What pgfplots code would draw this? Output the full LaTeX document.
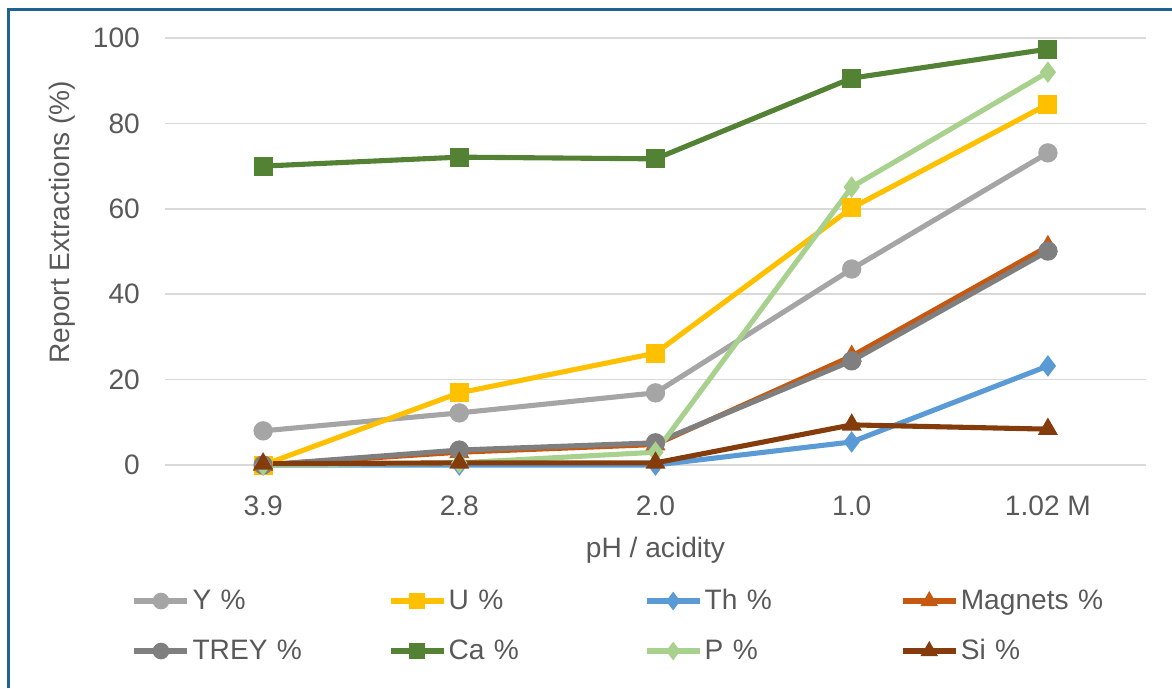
\documentclass[border=0pt]{standalone}
\usepackage{pgfplots}
\pgfplotsset{compat=1.18}
\usepackage{fontspec}
\setmainfont{Liberation Sans}

\definecolor{txt}{HTML}{595959}
\definecolor{gridc}{HTML}{D9D9D9}
\definecolor{frame}{HTML}{1F6391}
\definecolor{cY}{HTML}{A5A5A5}
\definecolor{cU}{HTML}{FFC000}
\definecolor{cTh}{HTML}{5B9BD5}
\definecolor{cMag}{HTML}{C65911}
\definecolor{cTREY}{HTML}{7F7F7F}
\definecolor{cCa}{HTML}{548235}
\definecolor{cP}{HTML}{A9D18E}
\definecolor{cSi}{HTML}{843C0C}

\newcommand{\chartfont}{\fontsize{16}{19}\selectfont}

\pgfplotsset{
  ser/.style={color=#1, line width=2.9pt, mark options={solid, fill=#1, draw=#1, line width=0.8pt}},
}

\begin{document}
\begin{tikzpicture}
\begin{axis}[
  at={(3.30cm,-9.30cm)}, anchor=south west,
  width=19.62cm, height=8.54cm, scale only axis,
  xmin=-0.5, xmax=4.5, ymin=0, ymax=100,
  xtick={0,1,2,3,4},
  xticklabels={3.9,2.8,2.0,1.0,1.02 M},
  ytick={0,20,40,60,80,100},
  ymajorgrids, grid style={gridc, line width=1pt},
  axis line style={draw=none},
  major tick length=0pt,
  /pgf/number format/assume math mode=true,
  tick label style={font=\chartfont, color=txt},
  yticklabel style={xshift=-0.38cm},
  xticklabel style={yshift=-0.50cm},
  label style={font=\chartfont, color=txt},
  xlabel={pH / acidity},
  xlabel style={at={(axis description cs:0.5,-0.199)}, anchor=center},
  ylabel={Report Extractions (\%)},
  ylabel style={at={(axis description cs:-0.105,0.569)}, anchor=center},
  clip=false,
  legend columns=4,
  legend cell align=left,
  legend image code/.code={
    \draw[mark repeat=2, mark phase=2, #1, /tikz/every mark/.append style={scale=0.85}]
      plot coordinates {(0cm,0cm) (0.53cm,0cm) (1.06cm,0cm)};},
  legend style={
    at={(axis description cs:-0.0337,-0.26)}, anchor=north west,
    draw=none, fill=none, inner sep=0pt, outer sep=0pt,
    font=\chartfont, text=txt, column sep=0pt, row sep=0pt,
    nodes={inner xsep=0.05cm, inner ysep=0pt, minimum height=1.0cm},
    /tikz/every even column/.append style={text width=3.86cm},
  },
]
\addplot[ser=cY, mark=*, mark size=5.1pt] coordinates {(0,8.0) (1,12.2) (2,16.9) (3,45.9) (4,73.1)};
\addlegendentry{Y \%}
\addplot[ser=cU, mark=square*, mark size=5.0pt] coordinates {(0,0) (1,16.9) (2,26.2) (3,60.2) (4,84.5)};
\addlegendentry{U \%}
\addplot[ser=cTh, mark=diamond*, mark size=5.5pt] coordinates {(0,0) (1,0) (2,0) (3,5.4) (4,23.2)};
\addlegendentry{Th \%}
\addplot[ser=cMag, mark=triangle*, mark size=5.8pt] coordinates {(0,0) (1,3.0) (2,4.8) (3,25.5) (4,51.2)};
\addlegendentry{Magnets \%}
\addplot[ser=cTREY, mark=*, mark size=5.1pt] coordinates {(0,0) (1,3.5) (2,5.2) (3,24.4) (4,50.1)};
\addlegendentry{TREY \%}
\addplot[ser=cCa, mark=square*, mark size=5.0pt] coordinates {(0,70.0) (1,72.1) (2,71.7) (3,90.6) (4,97.4)};
\addlegendentry{Ca \%}
\addplot[ser=cP, mark=diamond*, mark size=5.5pt] coordinates {(0,0) (1,0.5) (2,3.0) (3,65.1) (4,92.0)};
\addlegendentry{P \%}
\addplot[ser=cSi, mark=triangle*, mark size=5.8pt] coordinates {(0,0.3) (1,0.5) (2,0.5) (3,9.4) (4,8.4)};
\addlegendentry{Si \%}
\end{axis}
\draw[frame, line width=0.06cm] (0.16cm,-13.76cm) -- (0.16cm,-0.18cm) -- (23.44cm,-0.18cm);
\pgfresetboundingbox
\useasboundingbox (0,0) rectangle (23.44cm,-13.76cm);
\end{tikzpicture}
\end{document}
